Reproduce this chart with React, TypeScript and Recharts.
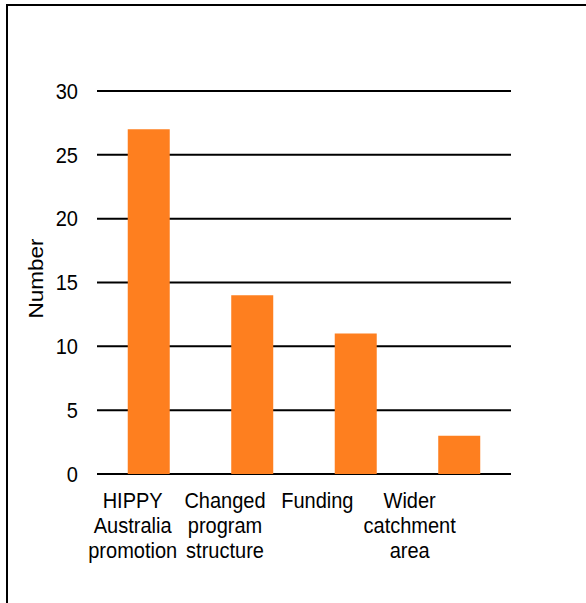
import React from "react";
import { BarChart, Bar, XAxis, YAxis, CartesianGrid } from "recharts";

const categories = [
  "HIPPY Australia promotion",
  "Changed program structure",
  "Funding",
  "Wider catchment area",
];
const tickLabelLines = [
  ["HIPPY", "Australia", "promotion"],
  ["Changed", "program", "structure"],
  ["Funding"],
  ["Wider", "catchment", "area"],
];
const values = [27, 14, 11, 3];
const yTicks = [0, 5, 10, 15, 20, 25, 30];
const yLabel = "Number";

const data = categories.map((c, i) => ({ category: c, value: values[i] }));

const FONT = "'Liberation Sans', Arial, sans-serif";
const LABEL_X_SCALE = 0.892;
const GLYPH_X_SCALE = 0.91;
const FONT_SIZE = 22;

const XTick = (props: any) => {
  const { x, y, index } = props;
  const lines = tickLabelLines[index] || [];
  const cx = x * LABEL_X_SCALE;
  return (
    <g>
      {lines.map((l, i) => (
        <text
          key={i}
          x={0}
          y={0}
          transform={`translate(${cx}, ${y + 34 + i * 25}) scale(${GLYPH_X_SCALE}, 1)`}
          textAnchor="middle"
          fontSize={FONT_SIZE}
          fontFamily={FONT}
          fill="#000"
        >
          {l}
        </text>
      ))}
    </g>
  );
};

const YTick = (props: any) => {
  const { x, y, payload } = props;
  return (
    <text
      x={0}
      y={0}
      dy="0.355em"
      transform={`translate(${x}, ${y}) scale(${GLYPH_X_SCALE}, 1)`}
      textAnchor="end"
      fontSize={FONT_SIZE}
      fontFamily={FONT}
      fill="#000"
    >
      {payload.value}
    </text>
  );
};

const YLabel = (props: any) => {
  const vb = props.viewBox || {};
  const cx = (vb.x || 0) + 36;
  const cy = (vb.y || 0) + (vb.height || 0) / 2 - 4;
  return (
    <text
      x={0}
      y={0}
      transform={`translate(${cx}, ${cy}) rotate(-90) scale(1, ${GLYPH_X_SCALE})`}
      textAnchor="middle"
      dominantBaseline="central"
      fontSize={22.5}
      fontFamily={FONT}
      fill="#000"
    >
      {yLabel}
    </text>
  );
};

export default function App() {
  return (
    <div
      style={{
        position: "absolute",
        left: 0,
        top: 0,
        width: 586,
        height: 603,
        overflow: "hidden",
        background: "#fff",
      }}
    >
      <div
        style={{
          position: "absolute",
          left: 6,
          top: 4,
          width: 800,
          height: 800,
          borderLeft: "2px solid #000",
          borderTop: "2px solid #000",
        }}
      />
      <div style={{ position: "absolute", left: 0, top: 0 }}>
        <BarChart
          width={586}
          height={603}
          data={data}
          margin={{ top: 91, right: 75, left: 0, bottom: 0 }}
          barCategoryGap="29.7%"
        >
          <CartesianGrid vertical={false} stroke="#000" strokeWidth={2} />
          <XAxis
            dataKey="category"
            axisLine={false}
            tickLine={false}
            tickSize={0}
            tickMargin={0}
            height={129}
            interval={0}
            tick={<XTick />}
          />
          <YAxis
            width={97}
            domain={[0, 30]}
            ticks={yTicks}
            axisLine={false}
            tickLine={false}
            tickSize={0}
            tickMargin={19}
            tick={<YTick />}
            label={<YLabel />}
          />
          <Bar dataKey="value" fill="#FE7F1F" isAnimationActive={false} />
        </BarChart>
      </div>
    </div>
  );
}
